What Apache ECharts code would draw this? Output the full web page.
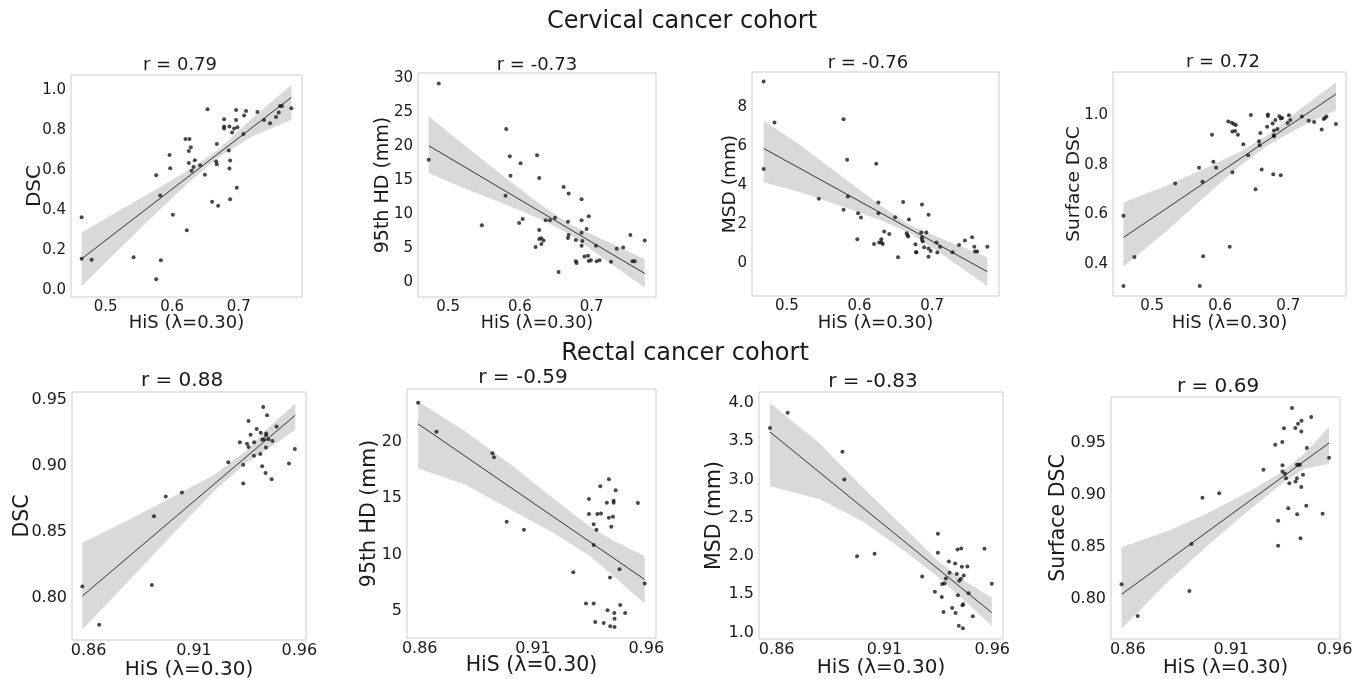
<!DOCTYPE html>
<html>
<head>
<meta charset="utf-8">
<title>HiS correlation</title>
<script src="https://cdn.jsdelivr.net/npm/echarts@6/dist/echarts.min.js"></script>
<style>
html, body { margin: 0; padding: 0; background: #fff; }
#chart { width: 1365px; height: 679px; }
</style>
</head>
<body>
<div id="chart"></div>
<script>
// ---- cervical cohort: [HiS, metric] ----
const cervDsc = [[0.464,0.363],[0.464,0.155],[0.479,0.150],[0.542,0.162],[0.576,0.573],[0.576,0.052],[0.582,0.472],[0.583,0.147],[0.596,0.675],[0.597,0.608],[0.601,0.375],[0.620,0.755],[0.626,0.755],[0.622,0.298],[0.625,0.695],[0.628,0.713],[0.625,0.635],[0.629,0.595],[0.632,0.615],[0.634,0.648],[0.642,0.623],[0.649,0.575],[0.653,0.903],[0.660,0.440],[0.666,0.642],[0.667,0.730],[0.667,0.628],[0.669,0.420],[0.678,0.853],[0.678,0.817],[0.678,0.807],[0.686,0.817],[0.685,0.697],[0.687,0.647],[0.686,0.607],[0.687,0.453],[0.690,0.787],[0.693,0.807],[0.696,0.900],[0.696,0.850],[0.698,0.813],[0.697,0.510],[0.707,0.780],[0.708,0.872],[0.711,0.895],[0.728,0.890],[0.738,0.850],[0.747,0.833],[0.756,0.865],[0.760,0.887],[0.762,0.920],[0.765,0.920],[0.779,0.908]];
const cervDscFit = [[0.464,0.155],[0.779,0.963]];
const cervDscBandX = [0.464,0.52,0.58,0.63,0.67,0.72,0.779];
const cervDscBandUp = [0.287,0.395,0.51,0.609,0.703,0.857,1.025];
const cervDscBandLo = [0.017,0.203,0.396,0.553,0.663,0.767,0.85];

const cervHd = [[0.473,18.0],[0.487,29.2],[0.547,8.37],[0.580,12.72],[0.581,22.5],[0.586,18.5],[0.587,15.66],[0.599,8.71],[0.601,17.5],[0.604,9.3],[0.622,5.18],[0.624,18.64],[0.627,15.32],[0.627,7.68],[0.627,6.36],[0.630,6.46],[0.630,5.62],[0.633,6.16],[0.636,9.1],[0.642,9.1],[0.649,9.49],[0.654,1.51],[0.661,13.99],[0.667,8.9],[0.668,13.06],[0.667,6.5],[0.668,6.95],[0.678,6.21],[0.678,3.08],[0.679,2.84],[0.686,12.18],[0.686,9.1],[0.686,5.38],[0.686,7.29],[0.687,6.06],[0.690,3.81],[0.693,7.83],[0.695,3.91],[0.696,9.69],[0.696,3.13],[0.699,3.23],[0.706,5.38],[0.707,3.08],[0.711,3.23],[0.727,3.03],[0.735,4.94],[0.744,5.13],[0.754,6.95],[0.757,3.08],[0.760,3.08],[0.774,6.16]];
const cervHdFit = [[0.473,20.06],[0.774,1.3]];
const cervHdBandX = [0.473,0.52,0.58,0.63,0.67,0.72,0.774];
const cervHdBandUp = [24.37,20.34,15.37,11.33,8.54,6.06,3.42];
const cervHdBandLo = [16.05,13.92,11.41,9.21,7.02,3.26,-0.74];

const cervMsd = [[0.468,9.30],[0.468,4.82],[0.483,7.20],[0.544,3.30],[0.578,7.37],[0.578,2.74],[0.583,5.30],[0.584,3.42],[0.597,1.23],[0.598,2.56],[0.602,2.34],[0.620,0.99],[0.623,5.09],[0.626,3.11],[0.626,2.56],[0.627,1.06],[0.630,1.23],[0.630,1.06],[0.632,0.99],[0.634,1.62],[0.641,1.50],[0.649,2.36],[0.653,0.31],[0.660,3.13],[0.665,1.54],[0.666,1.44],[0.667,1.37],[0.668,2.24],[0.677,0.97],[0.678,0.56],[0.678,0.56],[0.686,3.01],[0.685,1.57],[0.686,1.33],[0.686,1.21],[0.687,1.11],[0.689,0.82],[0.692,1.57],[0.695,2.48],[0.695,0.75],[0.695,0.34],[0.698,0.63],[0.706,1.06],[0.707,0.55],[0.711,0.85],[0.728,0.56],[0.737,0.94],[0.745,1.16],[0.755,1.33],[0.758,0.84],[0.759,0.60],[0.762,0.60],[0.776,0.84]];
const cervMsdFit = [[0.468,5.88],[0.776,-0.43]];
const cervMsdBandX = [0.468,0.52,0.58,0.63,0.67,0.72,0.776];
const cervMsdBandUp = [7.30,6.0,4.32,2.93,1.94,1.15,0.31];
const cervMsdBandLo = [4.15,3.62,2.86,2.19,1.54,0.29,-1.16];

const cervSdsc = [[0.458,0.595],[0.458,0.311],[0.474,0.428],[0.534,0.725],[0.569,0.788],[0.570,0.311],[0.574,0.732],[0.575,0.431],[0.588,0.921],[0.590,0.812],[0.594,0.788],[0.612,0.974],[0.614,0.470],[0.618,0.770],[0.617,0.969],[0.620,0.964],[0.618,0.934],[0.622,0.936],[0.623,0.960],[0.626,0.921],[0.634,0.883],[0.641,0.838],[0.645,1.001],[0.652,0.701],[0.657,0.895],[0.658,0.879],[0.659,0.928],[0.661,0.781],[0.669,0.953],[0.670,1.003],[0.670,0.997],[0.677,0.966],[0.678,0.762],[0.679,0.938],[0.679,0.919],[0.679,0.915],[0.681,0.980],[0.684,0.944],[0.687,0.996],[0.689,0.758],[0.689,0.987],[0.691,0.989],[0.699,0.968],[0.701,1.000],[0.703,0.981],[0.720,0.995],[0.730,0.977],[0.738,0.972],[0.749,0.942],[0.752,0.985],[0.754,0.989],[0.756,0.995],[0.770,0.964]];
const cervSdscFit = [[0.458,0.507],[0.770,1.085]];
const cervSdscBandX = [0.458,0.52,0.58,0.63,0.67,0.72,0.770];
const cervSdscBandUp = [0.648,0.714,0.788,0.854,0.921,1.030,1.132];
const cervSdscBandLo = [0.389,0.530,0.678,0.798,0.879,0.955,1.020];

// ---- rectal cohort: [HiS, metric] ----
const recDsc = [[0.857,0.8086],[0.865,0.7796],[0.890,0.8096],[0.891,0.8618],[0.8966,0.8766],[0.9043,0.8797],[0.9263,0.9026],[0.9318,0.9177],[0.9334,0.9008],[0.9334,0.8865],[0.9359,0.9339],[0.9369,0.9235],[0.9352,0.9167],[0.9359,0.9142],[0.9385,0.9076],[0.9386,0.9177],[0.9398,0.9278],[0.9415,0.9089],[0.9417,0.9250],[0.9424,0.8996],[0.9429,0.9445],[0.9424,0.9197],[0.9432,0.9200],[0.944,0.8945],[0.9442,0.9137],[0.9443,0.9228],[0.9447,0.9382],[0.9443,0.9243],[0.9454,0.9200],[0.9469,0.8897],[0.9473,0.9187],[0.9492,0.9296],[0.9551,0.9016],[0.9579,0.9127]];
const recDscFit = [[0.857,0.8013],[0.9581,0.9382]];
const recDscBandX = [0.857,0.88,0.90,0.92,0.935,0.945,0.9581];
const recDscBandUp = [0.8416,0.8598,0.8765,0.8936,0.9114,0.9283,0.947];
const recDscBandLo = [0.776,0.8144,0.8483,0.8814,0.9024,0.9127,0.9273];

const recHd = [[0.8593,23.42],[0.8674,20.86],[0.8921,18.97],[0.8928,18.61],[0.8984,12.91],[0.906,12.20],[0.9278,8.46],[0.9334,5.68],[0.9347,14.92],[0.9347,13.59],[0.9368,12.68],[0.9368,10.85],[0.9368,5.68],[0.9375,4.06],[0.938,12.20],[0.9384,13.59],[0.9397,16.04],[0.94,13.65],[0.9412,3.97],[0.9426,14.60],[0.9429,5.09],[0.9435,16.66],[0.9435,13.27],[0.944,7.98],[0.9441,3.67],[0.9446,12.47],[0.9453,13.36],[0.9456,14.77],[0.9456,14.60],[0.9459,4.85],[0.946,4.35],[0.946,3.61],[0.9465,15.69],[0.9482,8.72],[0.9485,5.56],[0.9507,4.85],[0.9563,14.57],[0.9593,7.45]];
const recHdFit = [[0.8593,21.56],[0.9593,7.81]];
const recHdBandX = [0.8593,0.88,0.90,0.92,0.935,0.945,0.9593];
const recHdBandUp = [23.54,20.9,18.0,14.8,12.5,11.3,9.87];
const recHdBandLo = [17.64,16.2,14.0,11.8,9.9,8.2,5.68];

const recMsd = [[0.8569,3.673],[0.8651,3.874],[0.8905,3.364],[0.8914,2.999],[0.8973,1.997],[0.9054,2.028],[0.9275,1.732],[0.9334,1.532],[0.9348,2.289],[0.9348,2.041],[0.9366,1.462],[0.9368,1.632],[0.9374,1.266],[0.9379,1.640],[0.9385,1.706],[0.9399,1.928],[0.9402,1.780],[0.9414,1.318],[0.9428,1.902],[0.943,1.253],[0.9436,1.762],[0.9439,2.085],[0.9441,1.484],[0.9445,1.087],[0.9447,1.675],[0.9455,1.701],[0.9456,2.098],[0.9459,1.858],[0.9462,1.353],[0.9464,1.053],[0.9465,1.366],[0.9468,1.745],[0.9485,1.862],[0.949,1.510],[0.951,1.209],[0.9564,2.093],[0.9598,1.636]];
const recMsdFit = [[0.8569,3.621],[0.9598,1.257]];
const recMsdBandX = [0.8569,0.88,0.90,0.92,0.935,0.945,0.9598];
const recMsdBandUp = [4.00,3.47,2.89,2.35,1.93,1.71,1.453];
const recMsdBandLo = [2.912,2.74,2.45,2.05,1.72,1.47,1.087];

const recSdsc = [[0.857,0.8144],[0.8648,0.784],[0.8898,0.808],[0.8908,0.8532],[0.8961,0.8974],[0.9042,0.9019],[0.9256,0.9244],[0.9313,0.9484],[0.9327,0.8753],[0.9327,0.8513],[0.9347,0.951],[0.9348,0.9288],[0.9348,0.9228],[0.9355,0.9641],[0.936,0.9205],[0.9365,0.9163],[0.9376,0.8875],[0.9381,0.9115],[0.9394,0.9837],[0.941,0.9644],[0.9411,0.9131],[0.9418,0.9292],[0.9418,0.9163],[0.9419,0.8817],[0.9423,0.9686],[0.9426,0.9292],[0.9432,0.9292],[0.9435,0.8587],[0.9439,0.9612],[0.9439,0.9077],[0.944,0.9715],[0.9447,0.9196],[0.9463,0.8897],[0.9466,0.9452],[0.9487,0.975],[0.9542,0.8821],[0.9573,0.9359]];
const recSdscFit = [[0.857,0.8048],[0.9573,0.95]];
const recSdscBandX = [0.857,0.88,0.90,0.92,0.935,0.945,0.9573];
const recSdscBandUp = [0.850,0.866,0.884,0.905,0.923,0.939,0.9654];
const recSdscBandLo = [0.7718,0.818,0.854,0.888,0.912,0.925,0.9301];

// tick labels
const cervXTicks = [0.5, 0.6, 0.7];
const recXTicks = [0.86, 0.91, 0.96];
const cervDscTicks = [0, 0.2, 0.4, 0.6, 0.8, 1.0];
const cervHdTicks = [0, 5, 10, 15, 20, 25, 30];
const cervMsdTicks = [0, 2, 4, 6, 8];
const cervSdscTicks = [0.4, 0.6, 0.8, 1.0];
const recDscTicks = [0.80, 0.85, 0.90, 0.95];
const recHdTicks = [5, 10, 15, 20];
const recMsdTicks = [1.0, 1.5, 2.0, 2.5, 3.0, 3.5, 4.0];
const recSdscTicks = [0.80, 0.85, 0.90, 0.95];

const titles = ['r = 0.79', 'r = -0.73', 'r = -0.76', 'r = 0.72', 'r = 0.88', 'r = -0.59', 'r = -0.83', 'r = 0.69'];
const yNames = ['DSC', '95th HD (mm)', 'MSD (mm)', 'Surface DSC', 'DSC', '95th HD (mm)', 'MSD (mm)', 'Surface DSC'];
const xName = 'HiS (\u03bb=0.30)';

const FONT = 'DejaVu Sans';
const INK = '#1a1a1a';

// layout of each panel (pixels)
const panels = [
  {pts: cervDsc, fit: cervDscFit, bx: cervDscBandX, bu: cervDscBandUp, bl: cervDscBandLo,
   grid: {left: 71, top: 75, width: 231, height: 222}, x: [0.448, 0.795], y: [-0.0365, 1.075],
   xt: cervXTicks, xd: 1, yt: cervDscTicks, yd: 1, tick: 15, tPos: [180, 65], tFs: 18, yFs: 20, yGap: 26, xFs: 18, xGap: 17},
  {pts: cervHd, fit: cervHdFit, bx: cervHdBandX, bu: cervHdBandUp, bl: cervHdBandLo,
   grid: {left: 418, top: 73, width: 238, height: 224}, x: [0.4581, 0.7897], y: [-2.15, 30.73],
   xt: cervXTicks, xd: 1, yt: cervHdTicks, yd: 0, tick: 15, tPos: [537, 65], tFs: 18, yFs: 19, yGap: 25, xFs: 17.5, xGap: 17},
  {pts: cervMsd, fit: cervMsdFit, bx: cervMsdBandX, bu: cervMsdBandUp, bl: cervMsdBandLo,
   grid: {left: 752, top: 72, width: 247, height: 224}, x: [0.452, 0.792], y: [-1.675, 9.79],
   xt: cervXTicks, xd: 1, yt: cervMsdTicks, yd: 0, tick: 15, tPos: [868, 63], tFs: 18, yFs: 18.5, yGap: 12, xFs: 18, xGap: 18},
  {pts: cervSdsc, fit: cervSdscFit, bx: cervSdscBandX, bu: cervSdscBandUp, bl: cervSdscBandLo,
   grid: {left: 1113, top: 72, width: 233, height: 224}, x: [0.4426, 0.7848], y: [0.271, 1.174],
   xt: cervXTicks, xd: 1, yt: cervSdscTicks, yd: 1, tick: 15, tPos: [1223, 62], tFs: 18, yFs: 18.5, yGap: 29, xFs: 18, xGap: 18},
  {pts: recDsc, fit: recDscFit, bx: recDscBandX, bu: recDscBandUp, bl: recDscBandLo,
   grid: {left: 72, top: 392, width: 234, height: 248}, x: [0.8521, 0.9632], y: [0.768, 0.9558],
   xt: recXTicks, xd: 2, yt: recDscTicks, yd: 2, tick: 16, tPos: [182, 381], tFs: 20, yFs: 20.5, yGap: 39, xFs: 20, xGap: 20},
  {pts: recHd, fit: recHdFit, bx: recHdBandX, bu: recHdBandUp, bl: recHdBandLo,
   grid: {left: 407, top: 389, width: 249, height: 249}, x: [0.8544, 0.9643], y: [2.64, 24.64],
   xt: recXTicks, xd: 2, yt: recHdTicks, yd: 0, tick: 16, tPos: [523, 378], tFs: 20, yFs: 20.5, yGap: 27, xFs: 20.5, xGap: 17},
  {pts: recMsd, fit: recMsdFit, bx: recMsdBandX, bu: recMsdBandUp, bl: recMsdBandLo,
   grid: {left: 759, top: 392, width: 244, height: 247}, x: [0.8518, 0.965], y: [0.913, 4.144],
   xt: recXTicks, xd: 2, yt: recMsdTicks, yd: 1, tick: 16, tPos: [873, 382], tFs: 20, yFs: 20.5, yGap: 34, xFs: 20, xGap: 19},
  {pts: recSdsc, fit: recSdscFit, bx: recSdscBandX, bu: recSdscBandUp, bl: recSdscBandLo,
   grid: {left: 1111, top: 397, width: 229, height: 242}, x: [0.8519, 0.9626], y: [0.7619, 0.9942],
   xt: recXTicks, xd: 2, yt: recSdscTicks, yd: 2, tick: 16, tPos: [1218, 387], tFs: 20, yFs: 20.5, yGap: 42, xFs: 19.5, xGap: 19}
];

function label(text, x, y, size) {
  return {
    type: 'text', x: x, y: y, silent: true,
    style: {text: text, font: size + 'px "' + FONT + '"', fill: INK,
            textAlign: 'center', align: 'center', textVerticalAlign: 'middle', verticalAlign: 'middle'}
  };
}

const grids = [], xAxes = [], yAxes = [], series = [];
const texts = [
  label('Cervical cancer cohort', 682, 22, 24),
  label('Rectal cancer cohort', 685, 354, 24)
];

panels.forEach(function (p, i) {
  grids.push(Object.assign({show: true, borderColor: '#cccccc', borderWidth: 1, backgroundColor: '#fff',
    containLabel: false, outerBoundsMode: 'none'}, p.grid));
  xAxes.push({
    type: 'value', gridIndex: i, min: p.x[0], max: p.x[1],
    name: xName, nameLocation: 'middle', nameGap: p.xGap, nameMoveOverlap: false,
    nameTextStyle: {fontFamily: FONT, fontSize: p.xFs, color: INK},
    axisLine: {show: false}, axisTick: {show: false}, splitLine: {show: false},
    axisLabel: {customValues: p.xt, formatter: function (v) { return v.toFixed(p.xd); },
      fontFamily: FONT, fontSize: p.tick, color: INK, margin: 3}
  });
  yAxes.push({
    type: 'value', gridIndex: i, min: p.y[0], max: p.y[1],
    name: yNames[i], nameLocation: 'middle', nameRotate: 90, nameGap: p.yGap, nameMoveOverlap: false,
    nameTextStyle: {fontFamily: FONT, fontSize: p.yFs, color: INK},
    axisLine: {show: false}, axisTick: {show: false}, splitLine: {show: false},
    axisLabel: {customValues: p.yt, formatter: function (v) { return v.toFixed(p.yd); },
      fontFamily: FONT, fontSize: p.tick, color: INK, margin: 5}
  });
  // confidence band
  series.push({
    type: 'custom', xAxisIndex: i, yAxisIndex: i, silent: true, z: 1,
    encode: {x: 0, y: 1},
    data: p.bx.map(function (x, k) { return [x, p.bu[k], p.bl[k]]; }),
    renderItem: function (params, api) {
      if (params.dataIndex !== 0) return;
      const top = p.bx.map(function (x, k) { return api.coord([x, p.bu[k]]); });
      const bot = p.bx.map(function (x, k) { return api.coord([x, p.bl[k]]); }).reverse();
      return {type: 'polygon', shape: {points: top.concat(bot)}, style: {fill: '#d9d9d9'}};
    }
  });
  // regression line
  series.push({
    type: 'line', xAxisIndex: i, yAxisIndex: i, data: p.fit, symbol: 'none', silent: true, z: 2,
    lineStyle: {color: '#333333', width: 1}
  });
  series.push({
    type: 'scatter', xAxisIndex: i, yAxisIndex: i, data: p.pts, symbolSize: 4, z: 3,
    itemStyle: {color: '#1a1a1a'}
  });
  texts.push(label(titles[i], p.tPos[0], p.tPos[1], p.tFs));
});

const chart = echarts.init(document.getElementById('chart'));
chart.setOption({
  backgroundColor: '#ffffff',
  animation: false,
  grid: grids,
  xAxis: xAxes,
  yAxis: yAxes,
  series: series,
  graphic: {elements: texts}
});
</script>
</body>
</html>
